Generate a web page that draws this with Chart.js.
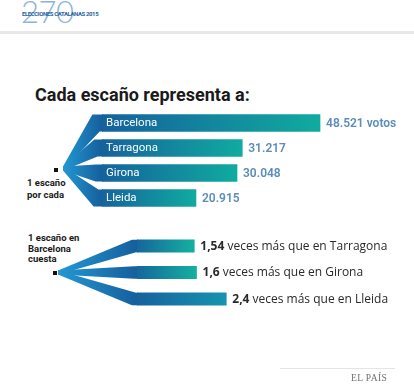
<!DOCTYPE html>
<html><head><meta charset="utf-8">
<script src="https://cdn.jsdelivr.net/npm/chart.js@4/dist/chart.umd.min.js"></script>
<style>
html,body{margin:0;padding:0;background:#fff;}
#wrap{position:relative;width:414px;height:390px;overflow:hidden;background:#fff;font-family:Roboto,"Open Sans",sans-serif;}
canvas{position:absolute;left:0;top:0;}
.t{position:absolute;white-space:nowrap;}
#num{left:21px;top:-7px;font-family:Lato,Roboto,sans-serif;font-weight:300;font-size:31px;line-height:36px;color:#8db3d6;letter-spacing:-0.5px;}
#elec{left:22px;top:10px;font-weight:700;font-size:6px;line-height:7px;color:#2463a0;letter-spacing:-0.4px;}
#band{position:absolute;left:0;top:31px;width:414px;height:3px;background:#e8e8e8;}
#title{left:35px;top:86px;font-weight:700;font-size:18px;line-height:18px;color:#1a1a1a;}
.side{font-weight:700;font-size:9.5px;color:#1a1a1a;}
#s1{left:27px;top:177px;line-height:11.5px;}
#s2{left:28px;top:233px;line-height:10.5px;}
.mk{position:absolute;width:3.5px;height:3.5px;background:#111;}
#fline{position:absolute;left:280px;top:368px;width:115px;height:1px;background:#e4e4e4;}
#logo{left:351px;top:373px;font-family:"Liberation Serif","DejaVu Serif",serif;font-size:9.5px;line-height:10px;color:#6f6f6f;letter-spacing:0.4px;}
</style></head><body>
<div id="wrap">
 <div class="t" id="num">270</div>
 <div class="t" id="elec">ELECCIONES CATALANAS 2015</div>
 <div id="band"></div>
 <div class="t" id="title">Cada escaño representa a:</div>
 <div class="t side" id="s1">1 escaño<br>por cada</div>
 <div class="t side" id="s2">1 escaño en<br>Barcelona<br>cuesta</div>
 <div class="mk" style="left:54px;top:168px"></div>
 <div class="mk" style="left:53px;top:271px"></div>
 <canvas id="c1" width="414" height="390"></canvas>
 <canvas id="c2" width="414" height="390"></canvas>
 <div id="fline"></div>
 <div class="t" id="logo">EL PAÍS</div>
</div>
<script>
const regions = ['Barcelona', 'Tarragona', 'Girona', 'Lleida'];
const votesPerSeat = [48521, 31217, 30048, 20915];
const voteLabels = ['48.521 votos', '31.217', '30.048', '20.915'];
const comparedRegions = ['Tarragona', 'Girona', 'Lleida'];
const costRatio = [1.54, 1.6, 2.4];
const ratioLabels = ['1,54', '1,6', '2,4'];

const fanPlugin = {
  id: 'fan',
  beforeDatasetsDraw(chart, args, o) {
    const ctx = chart.ctx;
    const meta = chart.getDatasetMeta(0);
    meta.data.forEach((el) => {
      const cy = el.y, h = el.height, x0 = el.base;
      const top = cy - h / 2, bot = cy + h / 2;
      const bx = x0 - o.join;
      const s = (o.oy - cy) * o.slant;
      const g = ctx.createLinearGradient(o.ox, 0, x0, 0);
      g.addColorStop(0, '#2298d3');
      g.addColorStop(1, '#155f9c');
      ctx.save();
      ctx.fillStyle = g;
      ctx.beginPath();
      ctx.moveTo(o.ox, o.oy - o.half);
      ctx.lineTo(bx - s, top);
      ctx.lineTo(x0 + 1, top);
      ctx.lineTo(x0 + 1, bot);
      ctx.lineTo(bx + s, bot);
      ctx.lineTo(o.ox, o.oy + o.half);
      ctx.closePath();
      ctx.fill();
      ctx.restore();
    });
  }
};

function barFill(endColors) {
  return function (c) {
    const ch = c.chart;
    if (!ch.chartArea) return '#155f9c';
    const xs = ch.scales.x;
    const x0 = xs.getPixelForValue(0) - 6;
    const x1 = xs.getPixelForValue(c.raw);
    const g = ch.ctx.createLinearGradient(x0, 0, x1, 0);
    g.addColorStop(0, '#155f9c');
    g.addColorStop(1, endColors[c.dataIndex] || '#10ab9f');
    return g;
  };
}

const topLabels = {
  id: 'topLabels',
  afterDatasetsDraw(chart) {
    const ctx = chart.ctx;
    const meta = chart.getDatasetMeta(0);
    ctx.save();
    ctx.textBaseline = 'middle';
    meta.data.forEach((el, i) => {
      ctx.font = '400 11.5px Roboto';
      ctx.fillStyle = '#ffffff';
      ctx.fillText(regions[i], el.base + 4, el.y + 0.5);
      ctx.font = '600 12px Roboto';
      ctx.fillStyle = '#5b8dbb';
      ctx.fillText(voteLabels[i], el.x + 6, el.y + 0.5);
    });
    ctx.restore();
  }
};

const bottomLabels = {
  id: 'bottomLabels',
  afterDatasetsDraw(chart) {
    const ctx = chart.ctx;
    const meta = chart.getDatasetMeta(0);
    ctx.save();
    ctx.textBaseline = 'middle';
    ctx.fillStyle = '#2a2a2a';
    meta.data.forEach((el, i) => {
      const x = el.x + 6;
      ctx.font = '700 12px "Open Sans"';
      ctx.fillText(ratioLabels[i], x, el.y + 0.5);
      const w = ctx.measureText(ratioLabels[i]).width;
      ctx.font = '400 12px "Open Sans"';
      ctx.fillText(' veces más que en ' + comparedRegions[i], x + w, el.y + 0.5);
    });
    ctx.restore();
  }
};

new Chart(document.getElementById('c1'), {
  type: 'bar',
  data: {
    labels: regions,
    datasets: [{ data: votesPerSeat, backgroundColor: barFill([]), barThickness: 17, borderWidth: 0 }]
  },
  options: {
    responsive: false, animation: false, devicePixelRatio: 1, indexAxis: 'y',
    layout: { padding: { left: 102, right: 42.4, top: 110.5, bottom: 179.5 } },
    scales: { x: { display: false, min: 0, max: 60000 }, y: { display: false } },
    plugins: { legend: { display: false }, tooltip: { enabled: false },
      fan: { ox: 63, oy: 168.5, half: 2, join: 6, slant: 0.08 } }
  },
  plugins: [fanPlugin, topLabels]
});

new Chart(document.getElementById('c2'), {
  type: 'bar',
  data: {
    labels: comparedRegions,
    datasets: [{ data: costRatio, backgroundColor: barFill(['#14b0a0', '#14b0a0', '#1794ae']), barThickness: 12.5, borderWidth: 0 }]
  },
  options: {
    responsive: false, animation: false, devicePixelRatio: 1, indexAxis: 'y',
    layout: { padding: { left: 137, right: 53.8, top: 232.75, bottom: 77.75 } },
    scales: { x: { display: false, min: 0, max: 6 }, y: { display: false } },
    plugins: { legend: { display: false }, tooltip: { enabled: false },
      fan: { ox: 58, oy: 272.5, half: 2, join: 3, slant: 0.08 } }
  },
  plugins: [fanPlugin, bottomLabels]
});
</script>
</body></html>
